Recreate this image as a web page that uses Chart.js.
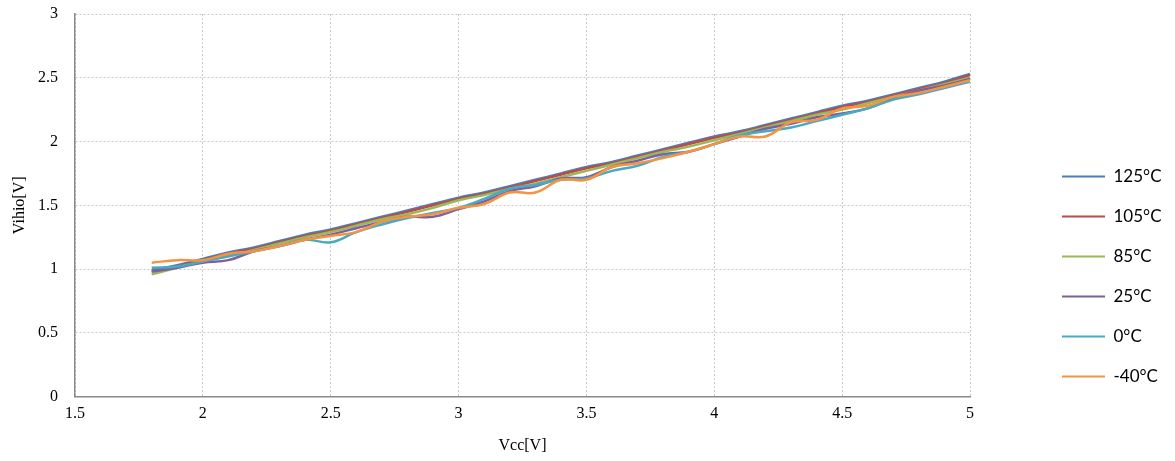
<!DOCTYPE html>
<html>
<head>
<meta charset="utf-8">
<script src="https://cdn.jsdelivr.net/npm/chart.js@4"></script>
<style>
  html, body { margin: 0; padding: 0; background: #fff; }
  #wrap { width: 1175px; height: 461px; }
</style>
</head>
<body>
<div id="wrap"><canvas id="vihChart" width="1175" height="461"></canvas></div>
<script>
// Vcc sweep points
const vcc = [1.8, 1.9, 2.0, 2.1, 2.2, 2.3, 2.4, 2.5, 2.6, 2.7, 2.8, 2.9, 3.0, 3.1, 3.2, 3.3, 3.4,
             3.5, 3.6, 3.7, 3.8, 3.9, 4.0, 4.1, 4.2, 4.3, 4.4, 4.5, 4.6, 4.7, 4.8, 4.9, 5.0];

// Vihio readings per temperature
const t125 = [0.99, 1.03, 1.08, 1.13, 1.17, 1.22, 1.27, 1.31, 1.36, 1.41, 1.46, 1.51, 1.56, 1.60, 1.65, 1.70, 1.75,
              1.80, 1.84, 1.89, 1.94, 1.99, 2.04, 2.08, 2.13, 2.18, 2.23, 2.28, 2.32, 2.37, 2.42, 2.47, 2.53];
const t105 = [0.98, 1.02, 1.07, 1.12, 1.16, 1.21, 1.26, 1.30, 1.35, 1.40, 1.45, 1.50, 1.55, 1.59, 1.64, 1.69, 1.74,
              1.79, 1.83, 1.88, 1.93, 1.98, 2.03, 2.07, 2.12, 2.17, 2.22, 2.27, 2.31, 2.36, 2.41, 2.46, 2.52];
const t85  = [0.96, 1.01, 1.06, 1.10, 1.15, 1.20, 1.25, 1.29, 1.34, 1.39, 1.43, 1.48, 1.54, 1.58, 1.63, 1.67, 1.72,
              1.77, 1.82, 1.87, 1.92, 1.96, 2.01, 2.06, 2.11, 2.16, 2.21, 2.25, 2.30, 2.35, 2.40, 2.45, 2.50];
const t25  = [0.98, 1.01, 1.05, 1.07, 1.14, 1.18, 1.23, 1.27, 1.32, 1.37, 1.41, 1.41, 1.47, 1.53, 1.61, 1.65, 1.71,
              1.72, 1.80, 1.85, 1.90, 1.92, 1.98, 2.04, 2.10, 2.14, 2.19, 2.22, 2.26, 2.34, 2.40, 2.44, 2.49];
const t0   = [1.01, 1.02, 1.06, 1.10, 1.14, 1.18, 1.23, 1.21, 1.29, 1.35, 1.40, 1.44, 1.48, 1.55, 1.63, 1.66, 1.70,
              1.71, 1.77, 1.81, 1.88, 1.92, 1.98, 2.05, 2.08, 2.11, 2.16, 2.21, 2.26, 2.33, 2.37, 2.42, 2.47];
const tm40 = [1.05, 1.07, 1.07, 1.12, 1.14, 1.18, 1.23, 1.26, 1.29, 1.37, 1.41, 1.43, 1.48, 1.51, 1.60, 1.60, 1.70,
              1.70, 1.80, 1.83, 1.87, 1.92, 1.98, 2.04, 2.04, 2.15, 2.17, 2.26, 2.28, 2.35, 2.38, 2.43, 2.48];

const labels = ['125°C', '105°C', '85°C', '25°C', '0°C', '-40°C'];
const series = [t125, t105, t85, t25, t0, tm40];
const colors = ['#4A7EBB', '#BE4B48', '#98B954', '#7D60A0', '#46AAC5', '#F69240'];

const serif = '"Liberation Serif", "Times New Roman", serif';
const fmt = v => String(+Number(v).toFixed(1));

// push legend away from plot, like the Excel layout
const legendSpot = {
  id: 'legendSpot',
  beforeInit(chart) {
    const lg = chart.legend;
    const fit = lg.fit;
    lg.fit = function () {
      fit.call(this);
      this.width = Math.max(this.width, 205);
    };
  },
  afterLayout(chart) {
    chart.legend.left += 69;
    chart.legend.top += 46;
    chart.legend.bottom += 46;
  }
};

const ctx = document.getElementById('vihChart').getContext('2d');
const vihChart = new Chart(ctx, {
  type: 'line',
  data: {
    datasets: series.map((s, i) => ({
      label: labels[i],
      data: s.map((v, j) => ({ x: vcc[j], y: v })),
      borderColor: colors[i],
      backgroundColor: colors[i],
      borderWidth: 2.5,
      pointRadius: 0,
      tension: 0.4,
      fill: false,
      order: series.length - 1 - i // last series on top
    }))
  },
  options: {
    responsive: false,
    animation: false,
    layout: { padding: 0 },
    plugins: {
      tooltip: { enabled: false },
      legend: {
        position: 'right',
        labels: {
          boxWidth: 43,
          boxHeight: 2,
          padding: 23,
          color: '#000',
          font: { family: 'Lato, "Open Sans", sans-serif', size: 17 },
          sort: (a, b) => a.datasetIndex - b.datasetIndex,
          generateLabels(chart) {
            const items = Chart.defaults.plugins.legend.labels.generateLabels(chart);
            items.forEach(it => { it.lineWidth = 0; });
            return items;
          }
        }
      }
    },
    scales: {
      x: {
        type: 'linear',
        min: 1.5,
        max: 5,
        ticks: { stepSize: 0.5, padding: 8, color: '#000', font: { family: serif, size: 16 }, callback: fmt },
        grid: { color: '#c9c9c9', drawTicks: false },
        border: { color: '#898989', width: 1.5, dash: [2, 2] },
        title: {
          display: true,
          text: 'Vcc[V]',
          color: '#000',
          font: { family: serif, size: 16 },
          padding: { top: 4, bottom: 6 }
        }
      },
      y: {
        min: 0,
        max: 3,
        afterFit(s) { s.width = 75; s.paddingTop = 14; },
        ticks: { stepSize: 0.5, padding: 17, color: '#000', font: { family: serif, size: 16 }, callback: fmt },
        grid: { color: '#c9c9c9', drawTicks: false },
        border: { color: '#898989', width: 1.5, dash: [2, 2] },
        title: {
          display: true,
          text: 'Vihio[V]',
          color: '#000',
          font: { family: serif, size: 16 },
          padding: { top: 10, bottom: 7 }
        }
      }
    }
  },
  plugins: [legendSpot]
});
</script>
</body>
</html>
